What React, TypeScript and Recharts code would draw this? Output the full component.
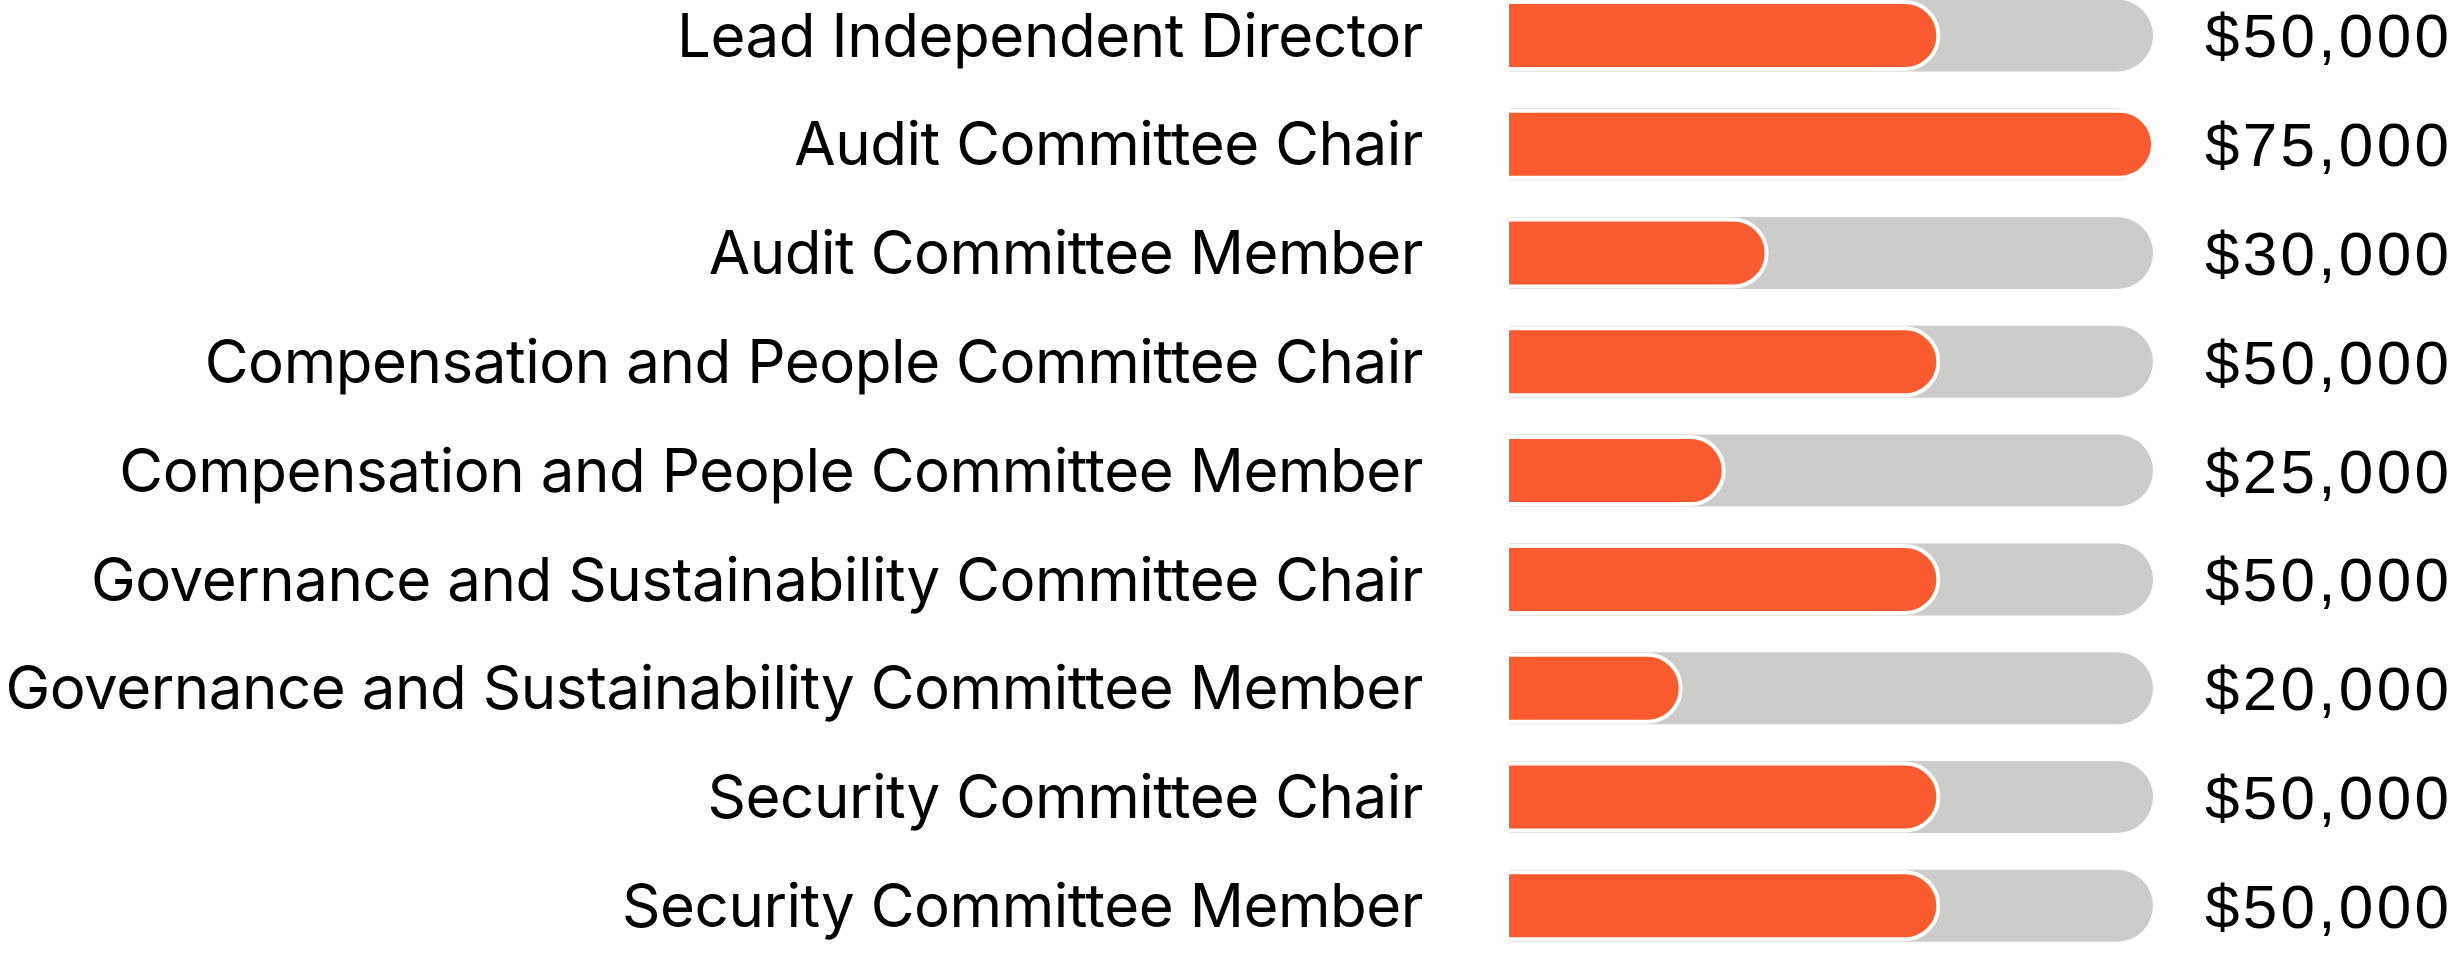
import React from 'react';
import { BarChart, Bar, XAxis, YAxis, Rectangle } from 'recharts';

const roles = [
  'Lead Independent Director',
  'Audit Committee Chair',
  'Audit Committee Member',
  'Compensation and People Committee Chair',
  'Compensation and People Committee Member',
  'Governance and Sustainability Committee Chair',
  'Governance and Sustainability Committee Member',
  'Security Committee Chair',
  'Security Committee Member',
];

const fees = [50000, 75000, 30000, 50000, 25000, 50000, 20000, 50000, 50000];

const feeMax = 75000;

const data = roles.map((role, i) => ({ role, fee: fees[i] }));

const ORANGE = '#FC5B2F';
const GREY = '#CCCCCA';

const formatFee = (v: number) => '$' + Number(v).toLocaleString('en-US');

const GreyTrack = (props: any) => {
  const { x, y, width, height } = props;
  return (
    <Rectangle
      x={x}
      y={y - 2.5}
      width={width}
      height={height + 5}
      radius={[0, 36, 36, 0]}
      fill={GREY}
    />
  );
};

// Orange fee bar: white outline, with the left stroke pushed outside the plot
const FeeBar = (props: any) => {
  const { x, y, width, height } = props;
  return (
    <Rectangle
      x={x - 2}
      y={y}
      width={width + 2}
      height={height}
      radius={[0, height / 2, height / 2, 0]}
      fill={ORANGE}
      stroke="#fff"
      strokeWidth={4}
    />
  );
};

const RoleTick = (props: any) => {
  const { x, y, payload } = props;
  return (
    <text
      x={x}
      y={y}
      dy="0.355em"
      textAnchor="end"
      fill="#000"
      fontFamily="Inter"
      fontSize={60}
      letterSpacing={-0.45}
    >
      {payload.value}
    </text>
  );
};

const FeeTick = (props: any) => {
  const { x, y, payload } = props;
  return (
    <text
      x={x}
      y={y}
      dy="0.355em"
      textAnchor="start"
      fill="#000"
      fontFamily="Liberation Sans"
      fontSize={62}
      letterSpacing={3.3}
    >
      {formatFee(payload.value)}
    </text>
  );
};

export default function App() {
  return (
    <div
      style={{
        position: 'absolute',
        left: 0,
        top: 0,
        width: 2461,
        height: 954,
        overflow: 'hidden',
        background: '#fff',
      }}
    >
      <div style={{ marginTop: -19 }}>
        <BarChart
          layout="vertical"
          width={2461}
          height={979}
          data={data}
          margin={{ top: 0, right: 0, bottom: 0, left: 0 }}
        >
          <XAxis type="number" domain={[0, feeMax]} hide />
          <YAxis
            yAxisId="left"
            type="category"
            dataKey="role"
            width={1509}
            axisLine={false}
            tickLine={false}
            tickSize={0}
            tickMargin={86}
            interval={0}
            tick={<RoleTick />}
          />
          <YAxis
            yAxisId="right"
            orientation="right"
            type="category"
            dataKey="fee"
            width={308}
            axisLine={false}
            tickLine={false}
            tickSize={0}
            tickMargin={52}
            interval={0}
            tick={<FeeTick />}
          />
          <Bar
            yAxisId="left"
            dataKey="fee"
            barSize={67}
            fill={ORANGE}
            shape={FeeBar}
            background={GreyTrack}
            isAnimationActive={false}
          />
        </BarChart>
      </div>
    </div>
  );
}
